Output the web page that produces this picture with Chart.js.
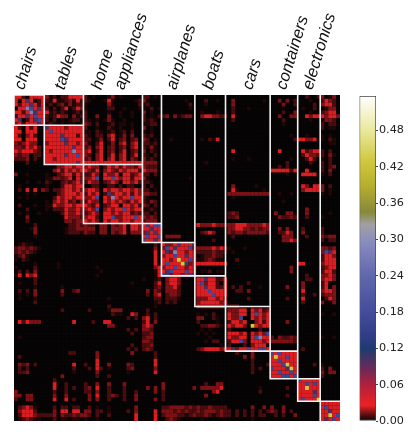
<!DOCTYPE html>
<html>
<head>
<meta charset="utf-8">
<script src="https://cdn.jsdelivr.net/npm/chart.js@4"></script>
<style>
  html, body { margin: 0; padding: 0; background: #fff; }
  #wrap { position: relative; width: 415px; height: 438px; }
  canvas { filter: blur(0.45px); }
  #heat { position: absolute; left: 0; top: 0; }
  #bar { position: absolute; left: 350px; top: 0; }
</style>
</head>
<body>
<div id="wrap">
  <canvas id="heat" width="415" height="438"></canvas>
  <canvas id="bar" width="65" height="438"></canvas>
</div>
<script>
const categoryLabels = ['chairs', 'tables', 'home', 'appliances', 'airplanes', 'boats', 'cars', 'containers', 'electronics'];
const colorbarTicks = [0, 0.06, 0.12, 0.18, 0.24, 0.30, 0.36, 0.42, 0.48];
const colorbarMax = 0.537;

// block borders, in cells
const blockEdges = [0, 7.8, 17.9, 33.1, 38, 46.6, 54.5, 66, 73.1, 78.9, 84];

// one digit per cell, groups split at the blocks
const levelValues = [0, 0.003, 0.008, 0.014, 0.024, 0.05, 0.1, 0.17, 0.28, 0.43];
const matrixRows = [
  '44204544 3120224444 201000130100000 22010 000000000 00000000 00000000000 0000000 002002 30130',
  '40464024 2141123142 210001410000012 31000 000000100 00200100 03000000010 0030302 000100 24320',
  '42446424 1202313122 100000310000002 12000 000000020 00100000 03000000000 0003002 000020 34420',
  '04487464 2020240243 100000220010001 10201 000000010 00000000 02000100000 0000000 010020 01330',
  '44248644 4121210121 200000100100100 30100 000000000 01000100 02000000000 0002003 000100 23440',
  '24464744 2124330312 200300300100100 20102 230312330 03443323 04000000000 0030033 004344 43443',
  '46024674 2020101220 210101310010000 21210 000000000 00000000 02000000000 0002000 000100 13320',
  '34244464 1210101101 320200120110100 11220 000000000 00000000 00000000000 0001000 000000 20220',
  '42042400 6444434454 200100210100100 30100 000000000 00000000 00000000000 0000000 000000 20110',
  '44044400 4744444444 110210120120200 10100 000000000 00000000 00000000000 0000000 000000 00000',
  '42034200 4444644424 210220340130300 21200 000000000 00000000 00000000000 0000010 001000 10100',
  '44044400 4444764444 220130240230230 32010 001000000 01021400 00000000000 0000002 443340 10210',
  '32343300 3444464434 310240130340340 22120 000000000 00000000 00000000000 0000000 000000 00110',
  '33243420 4444444644 230340230230340 21310 000000000 00000000 00000000000 0000000 000000 00000',
  '43444320 4344444844 340240230240230 30210 000000000 00000000 04000000000 0040000 042344 20200',
  '32330220 4444464474 320340240340240 21020 000000000 00000000 00000000000 0000000 024332 20310',
  '22230200 4434444444 230340340340320 31210 000000000 00000000 01000100000 0000010 002420 10200',
  '00020000 4444444464 444444444444444 33330 000000000 00100000 00000000000 0000200 000200 20200',
  '00000000 0003344344 343302434243324 32220 000000000 00000000 00000000000 0020200 000000 20230',
  '00000000 0034243434 432403432434442 43330 000000000 00000000 00000000000 4444424 004000 20300',
  '30010000 1002344243 224304334044234 22020 000000000 00000000 00000000000 0000100 044440 10200',
  '00000000 1133234143 334704474344244 31000 000000010 00000000 00000000000 0000000 000000 00000',
  '00010010 2100232343 243302343044342 22100 000000000 00000000 00000000000 0000000 000000 00000',
  '01000000 1000244344 002200220202200 20200 000000000 00000000 03000001000 0000000 043044 30200',
  '02040403 2022344343 344304345344343 22010 000000000 00000000 04100000010 0000000 034444 30100',
  '00010100 0002344434 243402634434243 33220 000000000 00000000 33333333333 0010010 000000 10100',
  '01010000 0024344344 334704384344744 21000 000000000 00000000 01000000000 0000000 000000 00000',
  '00000000 1034342313 243304343432434 21320 000000000 00000000 00000000000 0001000 000000 00000',
  '02000100 1143344344 432402344044342 32020 000000000 00000000 00000000000 0000000 000000 00000',
  '00020000 1022243343 343703434474344 11210 000000000 00000000 00000000000 0000000 003000 00000',
  '01010010 0000243343 234304434344232 22020 000000000 00000000 23200000000 0300330 003000 00100',
  '00030000 0000043332 344204473344474 32320 000000000 00000000 22300000000 0032232 002000 10000',
  '00020000 0000033233 434304344344344 23330 000000000 00000000 00000000000 0000000 000000 00000',
  '00000200 0000002232 322033032340443 46477 000000000 43334333 33444333343 0000000 000000 00000',
  '00001300 0000012233 333033033340443 44644 000000000 00000000 33443323233 0030300 020000 20000',
  '00000300 0000012221 322033032340333 36464 000000000 02343000 32332333332 0022430 030000 20000',
  '00000100 0000000000 000000000000000 47447 033330000 00000000 02000000000 0003330 002000 32330',
  '00000000 0000000000 000000000000000 74464 000000000 00002000 00000000000 0003343 000000 20220',
  '01211000 0000000000 000000000000000 00020 433464446 00000000 00000000000 0000000 000000 00000',
  '23323210 0000000000 000000000000000 00030 374644473 33334343 10001000000 0000000 000000 33230',
  '23232100 0000000000 000000000000000 00040 463844344 22223222 01000000000 0000000 000000 37640',
  '12310000 0000000000 000000000000000 00040 344744644 01223220 00000000000 0000000 000000 24430',
  '10210000 0000000000 000000000000000 00040 443494474 11232110 00200000000 0000000 000000 24440',
  '00000100 0001000000 000000000000000 00040 474449634 44444444 00000000000 0000000 440000 34440',
  '10000200 0001000000 000100000000000 00034 344744344 00000000 00000000000 0000030 000000 23440',
  '02020300 0000000000 000010000000000 00014 467444744 01120110 00000000000 0000030 000000 24420',
  '14043400 0000000000 000100000000000 00014 773446477 00000000 00000000000 0000000 002000 33430',
  '00000200 0000000000 000000000000000 10012 034430000 44644224 00000000000 0000000 002200 34430',
  '01000200 0000000000 000000000000100 00024 034430000 47344204 00000200000 0000000 030000 24000',
  '00000100 0000100000 000000000000000 00023 033420000 44644224 02020000100 0000300 030000 24030',
  '02020300 0000300230 000000000000000 03032 033320000 44474444 00220300000 0000000 040000 34430',
  '01010300 0000200000 000000000000000 02034 023320000 44447444 00000000000 0000000 020020 23330',
  '01000100 0000000000 000000100000000 00022 022210000 33344343 00000200000 0000200 040000 02430',
  '00000200 0000000000 000000000000000 00012 021200000 34444434 00000000000 0000000 020000 30030',
  '00000000 0000000000 000000200000000 00010 000000000 44444447 33300000000 0000000 000000 00000',
  '00000000 0000200000 020000133300000 02000 000000000 00000000 33344043423 0000000 000000 00000',
  '00000000 0000000000 000000021100430 02020 000000000 10102000 43344047434 0000000 000000 10010',
  '00000000 0000000000 000000000002020 34020 000000000 33002100 43370043434 0000000 000000 00000',
  '04243330 0000000400 002004400000000 24030 000000000 20000100 24434003424 0000300 000000 00000',
  '00000000 0000000000 000000330000000 34300 000000000 02233210 43443094344 0000000 000000 00000',
  '00000000 0000000000 000000000002020 33200 000000000 01010000 20000000200 0000000 000000 00000',
  '00000000 0000000000 000000000000200 22300 000000000 10101000 44434043437 0000000 000000 00000',
  '01000000 0000000000 000000000000000 23300 000000000 00010000 43344047844 2032232 000000 10010',
  '00000000 0000000000 000000000000000 33200 000000000 00102200 24473044434 3333332 000000 00000',
  '00000000 0000000000 000000000000200 22300 000000000 00000010 20002034440 0000000 000000 00000',
  '00000000 0000000000 000000000002020 23200 000000000 23444434 46344744774 0000000 020000 00000',
  '00000000 0000002200 000300000000300 00020 000000000 00000000 00200030000 7474444 000000 00000',
  '02000000 0000000000 000300000000000 00020 000000000 00000000 00003030000 4944744 000000 00000',
  '00000000 0000000000 000400000000000 00040 000000000 00000000 00000020000 4474444 000000 00000',
  '03230200 0000000400 200400300003200 00040 000000000 00000000 00000020002 4447944 000020 10000',
  '02020000 0000000200 020420100002300 00030 000000000 00000000 00000020200 7444694 000000 20300',
  '02230000 0000000100 000300000001000 00040 000000000 00000000 00000020000 4474474 000000 30330',
  '00000000 0000300000 000200200000000 00000 000000000 00000000 00000000000 4447747 000000 20000',
  '00000000 0020000000 000000000000000 00000 000000000 00000000 00000000000 0000000 744444 00000',
  '00000000 0040020000 200300300030000 00000 300000000 00200330 00000000000 0000000 447474 00000',
  '00000000 0040020200 230400200020000 03030 300000003 03333340 00000000100 0000200 449444 00000',
  '30000000 0020020000 220300200020020 00030 200000000 00003400 00000000200 0000000 444464 00000',
  '33033000 0030030000 030400232020030 00000 200000000 00300000 00000000000 0000200 444474 00000',
  '20033000 0040040200 030300200020030 00030 200000000 00000000 00000000000 0000000 474449 00000',
  '00000000 0000000000 000000000000000 00000 000000000 00000000 00000000000 0000000 000000 44444',
  '02343100 0020220220 020100100000030 00000 223333232 32232222 00000030030 3003000 000000 47444',
  '03444200 0030440440 330220100002030 00040 333232322 32333232 20202020202 3203020 000000 44644',
  '02444322 2230322323 320200200000040 00040 233322123 22321232 20202020220 0202003 000000 44947',
  '01232110 0020110110 100100000000040 00040 023210000 01000000 00000010000 0000000 000000 46474',
];

// colormap
const stopValues = [0, 0.012, 0.026, 0.06, 0.087, 0.12, 0.137, 0.18, 0.24, 0.296, 0.325, 0.345, 0.39, 0.43, 0.48, 0.537];
const stopColors = ['#060404', '#6a1014', '#ee2024', '#b0203c', '#6a2a58', '#1c3c70', '#2e3c84', '#444c9c', '#6068ac', '#8a8cc0', '#a0a0a0', '#88883c', '#b8b02c', '#d0c840', '#eae89c', '#ffffff'];

function rgb(hex) {
  return [1, 3, 5].map(i => parseInt(hex.slice(i, i + 2), 16));
}

function colorFor(v) {
  let i = 0;
  while (i < stopValues.length - 2 && v > stopValues[i + 1]) i++;
  const t = Math.min(1, (v - stopValues[i]) / (stopValues[i + 1] - stopValues[i]));
  const a = rgb(stopColors[i]), b = rgb(stopColors[i + 1]);
  return `rgb(${a.map((c, k) => Math.round(c + (b[k] - c) * t)).join(',')})`;
}

const nCells = 84;
const cells = [], cellColors = [];
matrixRows.forEach((row, r) => {
  row.replace(/ /g, '').split('').forEach((d, c) => {
    const v = levelValues[+d];
    cells.push({ x: c + 0.5, y: r + 0.5, v });
    cellColors.push(colorFor(v));
  });
});

// box of each block plus the riser of its right side up to the top edge
const blockLines = blockEdges.slice(0, -1).map((a, i) => {
  const b = blockEdges[i + 1];
  const last = i === blockEdges.length - 2;
  const path = last
    ? [{ x: b, y: a }, { x: a, y: a }, { x: a, y: b }]
    : [{ x: b, y: 0 }, { x: b, y: b }, { x: a, y: b }, { x: a, y: a }, { x: b, y: a }];
  return { data: path, showLine: true, borderColor: '#f2f2f2', borderWidth: 1.6, pointRadius: 0, order: 0 };
});

// where each label starts on the top axis, in cells
const labelAnchors = [6.3, 16.7, 26.2, 32.1, 45.5, 54.8, 65.1, 73.8, 80.6];

// black under the cells so their anti-aliased edges do not show white seams
const plotBackground = {
  id: 'plotBackground',
  beforeDatasetsDraw(chart) {
    const { ctx, chartArea: a } = chart;
    ctx.save();
    ctx.fillStyle = stopColors[0];
    ctx.fillRect(a.left, a.top, a.right - a.left, a.bottom - a.top);
    ctx.restore();
  },
};

new Chart(document.getElementById('heat'), {
  type: 'scatter',
  data: {
    datasets: [
      {
        data: cells,
        order: 1,
        pointStyle: 'rect',
        backgroundColor: cellColors,
        pointBackgroundColor: cellColors,
        pointBorderWidth: 0,
        // rect side is sqrt(2)*radius, so this fills exactly one cell
        pointRadius: ctx => ctx.chart.scales.x.width / nCells * Math.SQRT1_2 * 1.03,
      },
      ...blockLines,
    ],
  },
  options: {
    responsive: false,
    animation: false,
    events: [],
    layout: { padding: { left: 14, right: 75, top: 0, bottom: 17 } },
    plugins: { legend: { display: false }, tooltip: { enabled: false } },
    scales: {
      x: { type: 'linear', min: 0, max: nCells, display: false },
      y: { type: 'linear', min: 0, max: nCells, reverse: true, display: false },
      labelAxis: {
        type: 'linear',
        axis: 'x',
        position: 'top',
        min: 0,
        max: nCells,
        border: { display: false },
        grid: { display: false, drawTicks: false },
        afterBuildTicks(axis) { axis.ticks = labelAnchors.map(value => ({ value })); },
        afterFit(axis) {
          axis.height = 95;
          axis.paddingLeft = axis.paddingRight = axis.paddingTop = axis.paddingBottom = 0;
        },
        ticks: {
          autoSkip: false,
          minRotation: 73,
          maxRotation: 73,
          padding: 3,
          color: '#111',
          font: { family: '"Liberation Sans"', style: 'italic', size: 16.5 },
          callback: (v, i) => categoryLabels[i],
        },
      },
    },
  },
  plugins: [plotBackground],
});

new Chart(document.getElementById('bar'), {
  type: 'bar',
  data: {
    labels: [''],
    datasets: [{
      data: [[0, colorbarMax]],
      barPercentage: 1,
      categoryPercentage: 1,
      borderWidth: 1,
      borderColor: '#444',
      borderSkipped: false,
      backgroundColor(ctx) {
        const { chart } = ctx;
        if (!chart.chartArea) return '#888';
        const y = chart.scales.y;
        const g = chart.ctx.createLinearGradient(0, y.getPixelForValue(0), 0, y.getPixelForValue(colorbarMax));
        stopValues.forEach((v, i) => g.addColorStop(v / colorbarMax, stopColors[i]));
        return g;
      },
    }],
  },
  options: {
    responsive: false,
    animation: false,
    events: [],
    layout: { padding: { left: 9.5, right: 0, top: 96, bottom: 17 } },
    plugins: { legend: { display: false }, tooltip: { enabled: false } },
    scales: {
      x: { display: false },
      y: {
        position: 'right',
        min: 0,
        max: colorbarMax,
        border: { display: false },
        grid: { drawOnChartArea: false, tickLength: 2, color: '#444' },
        afterBuildTicks(axis) { axis.ticks = colorbarTicks.map(value => ({ value })); },
        afterFit(axis) { axis.width = 39; },
        ticks: {
          padding: 1,
          color: '#222',
          font: { family: '"DejaVu Sans"', size: 11.2 },
          callback: v => v.toFixed(2),
        },
      },
    },
  },
});
</script>
</body>
</html>
